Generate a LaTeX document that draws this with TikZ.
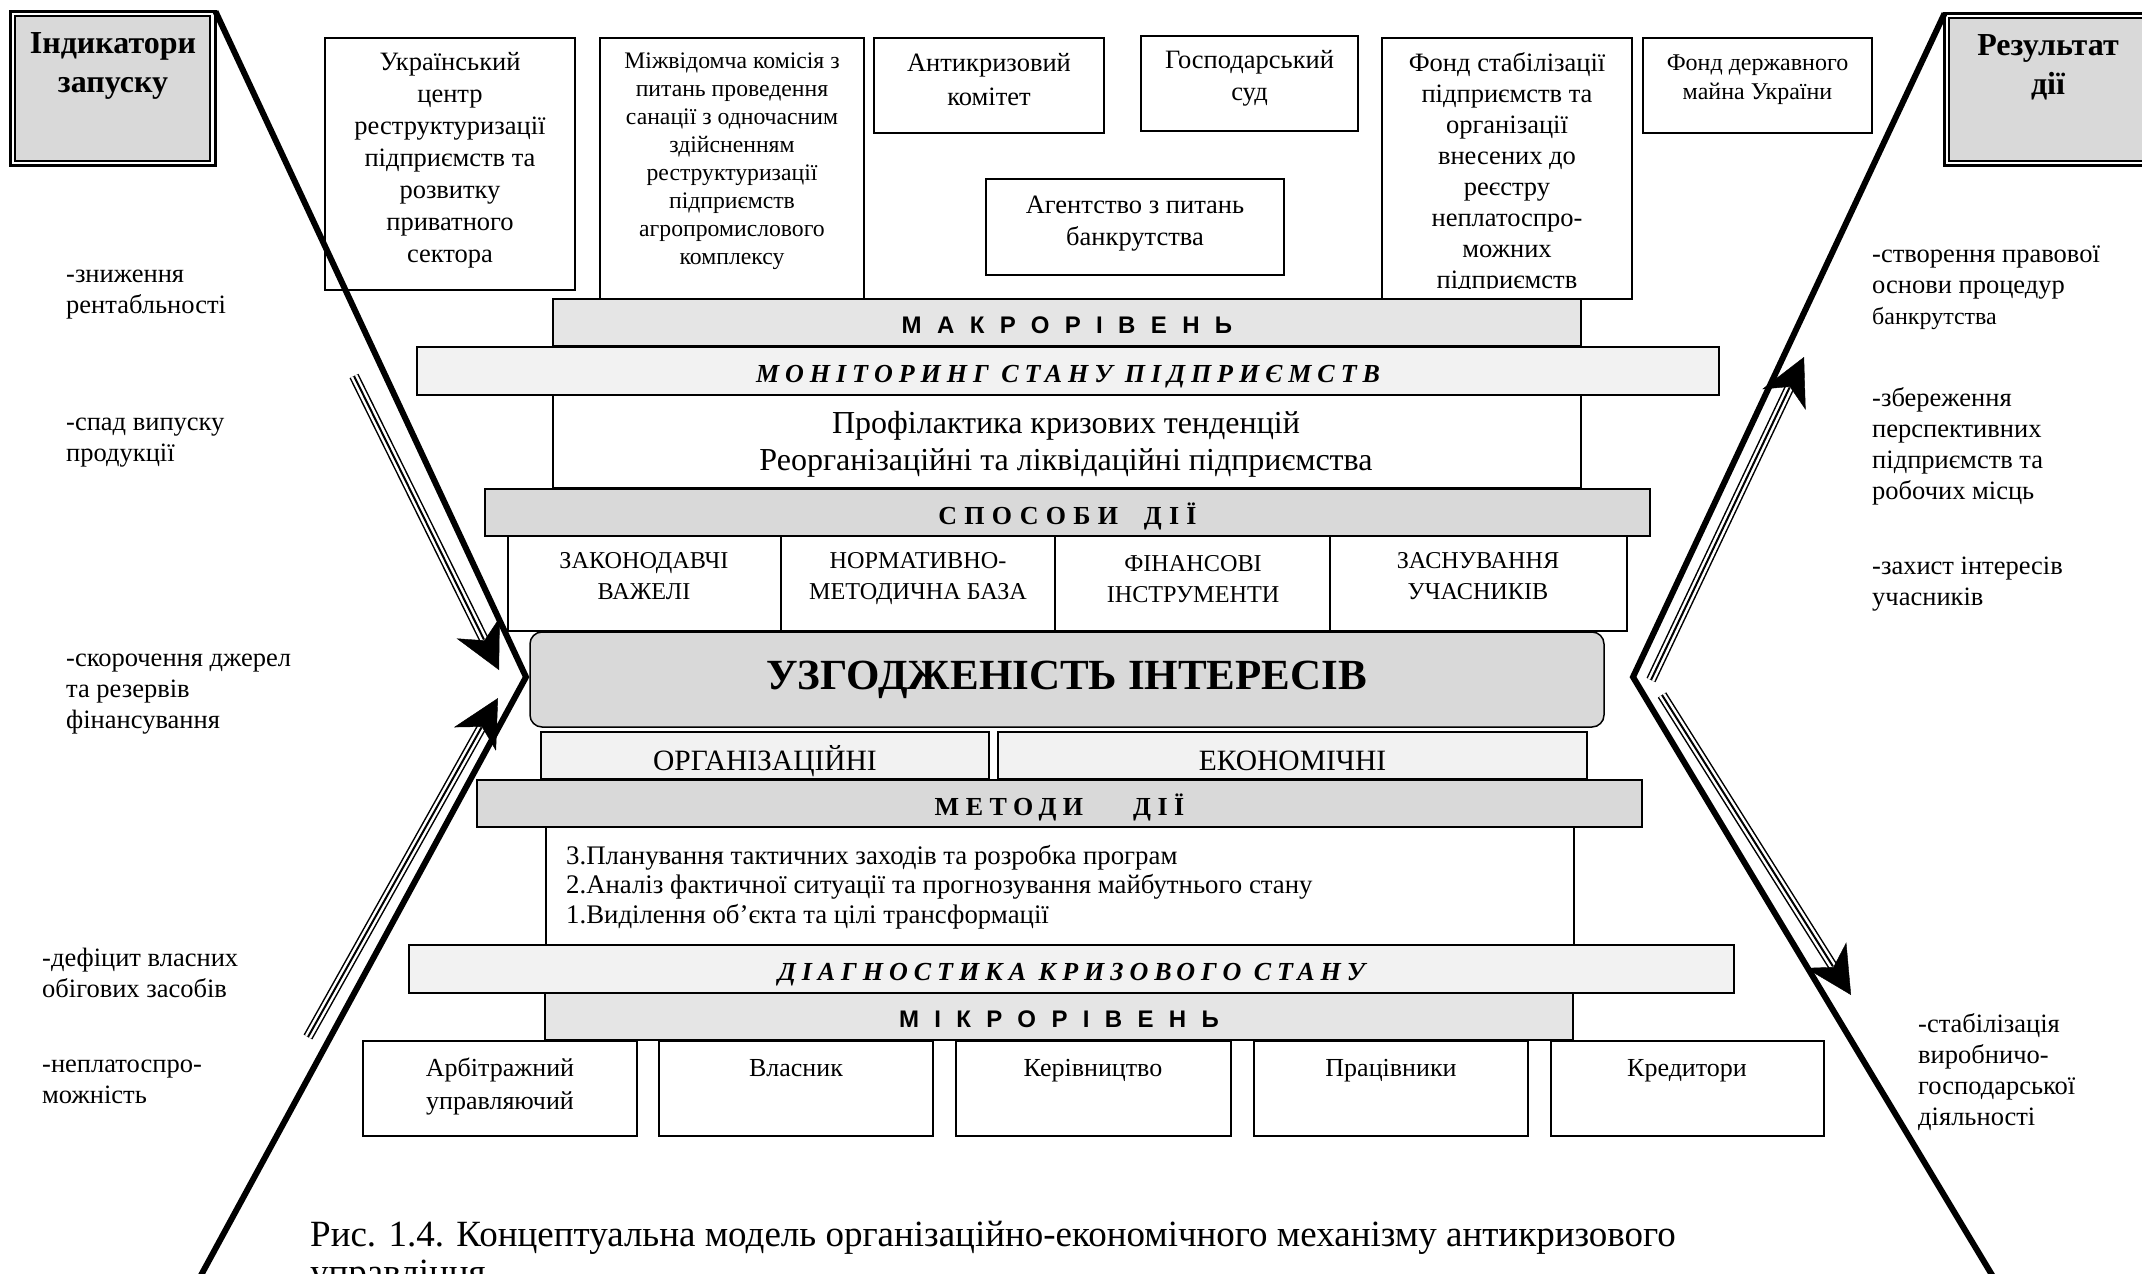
\documentclass[tikz,border=0pt]{standalone}
\usepackage{fontspec}
\setmainfont{Liberation Serif}
\setsansfont{Liberation Sans}
\usetikzlibrary{arrows.meta,calc}
\definecolor{gA}{gray}{0.85}
\definecolor{gB}{gray}{0.90}
\definecolor{gC}{gray}{0.95}
\newcommand\fs[2]{\fontsize{#1}{#2}\selectfont}
\begin{document}
\begin{tikzpicture}[x=1pt,y=-1pt,
  box/.style={draw=black,line width=1.5pt,fill=white,inner sep=0pt,outer sep=0pt,anchor=north west},
  txt/.style={inner sep=0pt,align=center},
  ltxt/.style={inner sep=0pt,align=left,anchor=west},
  bigline/.style={line width=6pt,line join=miter},
  tri/.style={line width=10pt,postaction={draw=white,line width=7pt},postaction={draw=black,line width=2pt}},
  head/.style={line width=0.4pt,-{Stealth[length=47pt,width=48pt,inset=14pt]}},
  lvl/.style={font=\sffamily\bfseries\fs{24}{28}\addfontfeature{LetterSpace=64},text height=21pt,text depth=0pt},
  ital/.style={font=\bfseries\itshape\fs{26}{30}\addfontfeature{LetterSpace=23},text height=22pt,text depth=0pt},
  bold/.style={font=\bfseries\fs{26}{30}\addfontfeature{LetterSpace=#1},text height=23pt,text depth=0pt},
  listtxt/.style={ltxt,font=\fs{26.5}{31}}
]
\useasboundingbox (0,0) rectangle (2142,1274);
\clip (0,0) rectangle (2142,1274);

% indicator boxes
\node[draw=black,line width=3pt,fill=white,inner sep=0pt,outer sep=0pt,anchor=north west,minimum width=205pt,minimum height=154pt] (ind) at (10.5,11.5) {};
\node[draw=black,line width=1.3pt,fill=gA,inner sep=0pt,outer sep=0pt,anchor=north west,minimum width=195pt,minimum height=145pt] (indin) at (15,16) {};
\node[txt,font=\bfseries\fs{32}{39}] (indt) at (113,65) {\strut Індикатори\\запуску\strut};

\node[draw=black,line width=3pt,fill=white,inner sep=0pt,outer sep=0pt,anchor=north west,minimum width=230pt,minimum height=152pt] (res) at (1944.5,13.5) {};
\node[draw=black,line width=1.3pt,fill=gA,inner sep=0pt,outer sep=0pt,anchor=north west,minimum width=220pt,minimum height=143pt] (resin) at (1949,18) {};
\node[txt,font=\bfseries\fs{32}{39}] (rest) at (2048,67.5) {\strut Результат\\дії\strut};

% top boxes
\node[box,minimum width=250pt,minimum height=252pt] (b1) at (325,38) {};
\node[txt,font=\fs{26.5}{32}] (t1) at (450,160) {\strut Український\\центр\\реструктуризації\\підприємств та\\розвитку\\приватного\\сектора\strut};
\node[box,minimum width=264pt,minimum height=261pt] (b2) at (600,38) {};
\node[txt,font=\fs{23.7}{28}] (t2) at (732,161) {\strut Міжвідомча комісія з\\питань проведення\\санації з одночасним\\здійсненням\\реструктуризації\\підприємств\\агропромислового\\комплексу\strut};
\node[box,minimum width=230pt,minimum height=95pt] (b3) at (874,38) {};
\node[txt,font=\fs{26.5}{34}] (t3) at (989,82) {\strut Антикризовий\\комітет\strut};
\node[box,minimum width=217pt,minimum height=95pt] (b4) at (1141,36) {};
\node[txt,font=\fs{26.5}{32}] (t4) at (1249.5,78) {\strut Господарський\\суд\strut};
\node[box,minimum width=298pt,minimum height=96pt] (b5) at (986,179) {};
\node[txt,font=\fs{26.5}{32}] (t5) at (1135,223) {\strut Агентство з питань\\банкрутства\strut};
\node[box,minimum width=250pt,minimum height=261pt] (b6) at (1382,38) {};
\begin{scope}
\clip (1383,39) rectangle (1631,288);
\node[txt,font=\fs{26.5}{31}] (t6) at (1507,174) {\strut Фонд стабілізації\\підприємств та\\організації\\внесених до\\реєстру\\неплатоспро-\\можних\\підприємств\strut};
\end{scope}
\node[box,minimum width=229pt,minimum height=95pt] (b7) at (1643,38) {};
\node[txt,font=\fs{24}{29}] (t7) at (1757.5,79) {\strut Фонд державного\\майна України\strut};

% central stack
\node[box,fill=gB,minimum width=1028pt,minimum height=47pt,lvl] (macro) at (553,299) {МАКРОРІВЕНЬ};
\node[box,fill=gC,minimum width=1302pt,minimum height=48pt,ital] (mon) at (417,347) {МОНІТОРИНГ СТАНУ ПІДПРИЄМСТВ};
\node[box,minimum width=1028pt,minimum height=93pt] (prof) at (553,395) {};
\node[txt,font=\fs{32}{37}] (proft) at (1066,445) {\strut Профілактика кризових тенденцій\\Реорганізаційні та ліквідаційні підприємства\strut};
\node[box,fill=gA,minimum width=1165pt,minimum height=47pt,bold=28] (spos) at (485,489) {СПОСОБИ\hspace{12pt} ДІЇ};

\node[box,minimum width=273pt,minimum height=95pt] (c1) at (508,536) {};
\node[box,minimum width=274pt,minimum height=95pt] (c2) at (781,536) {};
\node[box,minimum width=275pt,minimum height=95pt] (c3) at (1055,536) {};
\node[box,minimum width=297pt,minimum height=95pt] (c4) at (1330,536) {};
\node[txt,font=\fs{24.2}{31}] (c1t) at (644,578) {\strut ЗАКОНОДАВЧІ\\ВАЖЕЛІ\strut};
\node[txt,font=\fs{24.2}{31}] (c2t) at (918,578) {\strut НОРМАТИВНО-\\МЕТОДИЧНА БАЗА\strut};
\node[txt,font=\fs{24.2}{31}] (c3t) at (1193,581) {\strut ФІНАНСОВІ\\ІНСТРУМЕНТИ\strut};
\node[txt,font=\fs{24.2}{31}] (c4t) at (1478,578) {\strut ЗАСНУВАННЯ\\УЧАСНИКІВ\strut};

\node[box,fill=gA,rounded corners=12pt,minimum width=1074pt,minimum height=95pt,font=\bfseries\fs{43}{48}] (uzg) at (530,632) {УЗГОДЖЕНІСТЬ ІНТЕРЕСІВ};

\node[box,fill=gC,minimum width=448pt,minimum height=47pt,font=\fs{29.5}{33},text height=29pt,text depth=0pt] (org) at (541,732) {ОРГАНІЗАЦІЙНІ};
\node[box,fill=gC,minimum width=589pt,minimum height=47pt,font=\fs{29.5}{33},text height=29pt,text depth=0pt] (eco) at (998,732) {ЕКОНОМІЧНІ};

\node[box,fill=gA,minimum width=1165pt,minimum height=47pt,bold=25] (met) at (477,780) {МЕТОДИ\hspace{50pt}ДІЇ};
\node[box,minimum width=1028pt,minimum height=118pt] (lst) at (546,827) {};
\node[ltxt,font=\fs{26.8}{29.8}] (lstt) at (566,888) {\strut 3.Планування тактичних заходів та розробка програм\\2.Аналіз фактичної ситуації та прогнозування майбутнього стану\\1.Виділення об’єкта та цілі трансформації\strut};

\node[box,fill=gC,minimum width=1325pt,minimum height=48pt,ital] (diag) at (409,945) {ДІАГНОСТИКА КРИЗОВОГО СТАНУ};
\node[box,fill=gB,minimum width=1028pt,minimum height=47pt,lvl] (mik) at (545,993) {МІКРОРІВЕНЬ};

% bottom boxes
\node[box,minimum width=274pt,minimum height=95pt] (p1) at (363,1041) {};
\node[box,minimum width=274pt,minimum height=95pt] (p2) at (659,1041) {};
\node[box,minimum width=275pt,minimum height=95pt] (p3) at (956,1041) {};
\node[box,minimum width=274pt,minimum height=95pt] (p4) at (1254,1041) {};
\node[box,minimum width=273pt,minimum height=95pt] (p5) at (1551,1041) {};
\node[txt,font=\fs{26}{33}] (p1t) at (500,1086) {\strut Арбітражний\\управляючий\strut};
\node[txt,font=\fs{26}{33}] (p2t) at (796,1070) {\strut Власник\strut};
\node[txt,font=\fs{26}{33}] (p3t) at (1093,1070) {\strut Керівництво\strut};
\node[txt,font=\fs{26}{33}] (p4t) at (1391,1070) {\strut Працівники\strut};
\node[txt,font=\fs{26}{33}] (p5t) at (1687,1070) {\strut Кредитори\strut};

% caption
\node[ltxt,font=\fs{37}{38}] (cap) at (310,1258) {\strut Рис. 1.4. Концептуальна модель організаційно-економічного механізму антикризового\\управління\strut};

% left list
\node[listtxt] (l1) at (66,292) {\strut -зниження\\рентабльності\strut};
\node[listtxt] (l2) at (66,440) {\strut -спад випуску\\продукції\strut};
\node[listtxt] (l3) at (66,691) {\strut -скорочення джерел\\та резервів\\фінансування\strut};
\node[listtxt] (l4) at (42,976) {\strut -дефіцит власних\\обігових засобів\strut};
\node[listtxt] (l5) at (42,1082) {\strut -неплатоспро-\\можність\strut};

% right list
\node[listtxt] (r1) at (1872,287) {\strut -створення правової\\основи процедур\\{\fs{24}{31}банкрутства}\strut};
\node[listtxt] (r2) at (1872,447) {\strut -збереження\\перспективних\\підприємств та\\робочих місць\strut};
\node[listtxt] (r3) at (1872,584) {\strut -захист інтересів\\учасників\strut};
\node[listtxt] (r4) at (1918,1073) {\strut -стабілізація\\виробничо-\\господарської\\діяльності\strut};

% funnel lines
\coordinate (LV) at (526,677);
\coordinate (LB) at (193,1290);
\coordinate (RV) at (1633,677);
\coordinate (RB) at (2001,1290);
\draw[bigline] (ind.north east) -- (LV) -- (LB);
\draw[bigline] (res.north west) -- (RV) -- (RB);

% triple arrows
\coordinate (a1s) at (354,376); \coordinate (a1t) at (499,670);
\coordinate (a2s) at (308,1037); \coordinate (a2t) at (498,698);
\coordinate (a3s) at (1651,680); \coordinate (a3t) at (1804,357);
\coordinate (a4s) at (1662,695); \coordinate (a4t) at (1851,995);
\foreach \a in {a1,a2,a3,a4}{
  \coordinate (\a e) at ($(\a t)!34pt!(\a s)$);
  \coordinate (\a h) at ($(\a t)!55pt!(\a s)$);
  \draw[tri] (\a s) -- (\a e);
  \draw[head] (\a h) -- (\a t);
}
\end{tikzpicture}
\end{document}
